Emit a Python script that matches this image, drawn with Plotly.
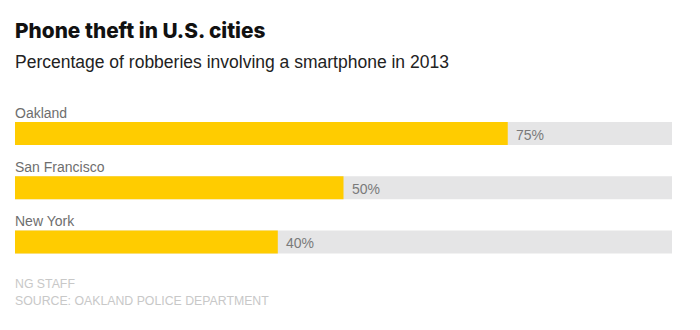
import plotly.graph_objects as go

# Share of robberies that involved a smartphone, 2013
cities = ["Oakland", "San Francisco", "New York"]
share = [75, 50, 40]
full_scale = [100, 100, 100]

YELLOW = "#ffcc00"
TRACK = "#e5e5e6"
FONT = "Liberation Sans, Arial, Helvetica, sans-serif"
HEAD_FONT = "Inter, Liberation Sans, Arial, sans-serif"

fig = go.Figure()

# Grey track showing the full 0-100% range
fig.add_trace(go.Bar(
    y=cities, x=full_scale, orientation="h",
    marker=dict(color=TRACK, line=dict(width=0)),
    width=0.42, hoverinfo="skip", showlegend=False,
))
# Yellow bar for the actual share
fig.add_trace(go.Bar(
    y=cities, x=share, orientation="h",
    marker=dict(color=YELLOW, line=dict(width=0)),
    width=0.42, showlegend=False,
    hovertemplate="%{y}: %{x}%<extra></extra>",
))

annotations = []
for city, val in zip(cities, share):
    # City name above each bar
    annotations.append(dict(
        x=0, y=city, xref="x", yref="y", text=city, showarrow=False,
        xanchor="left", yanchor="middle", xshift=-2, yshift=21,
        font=dict(family=FONT, size=14, color="#6e6e6e"),
    ))
    # Percentage just past the end of the yellow bar
    annotations.append(dict(
        x=val, y=city, xref="x", yref="y", text=f"{val}%", showarrow=False,
        xanchor="left", yanchor="middle", xshift=6, yshift=-1,
        font=dict(family=FONT, size=14, color="#7a7a7a"),
    ))

# Titles and credits (positions in pixels, converted below)
annotations += [
    dict(x=13, y=30.5, xref="paper", yref="paper", text="Phone theft in U.S. cities",
         showarrow=False, xanchor="left", yanchor="middle",
         font=dict(family=HEAD_FONT, size=20.8, color="#111111", weight=800)),
    dict(x=13, y=62, xref="paper", yref="paper",
         text="Percentage of robberies involving a smartphone in 2013",
         showarrow=False, xanchor="left", yanchor="middle",
         font=dict(family=FONT, size=17.5, color="#222222")),
    dict(x=13, y=284, xref="paper", yref="paper", text="NG STAFF",
         showarrow=False, xanchor="left", yanchor="middle",
         font=dict(family=FONT, size=12.3, color="#c8c8c8")),
    dict(x=13, y=301, xref="paper", yref="paper", text="SOURCE: OAKLAND POLICE DEPARTMENT",
         showarrow=False, xanchor="left", yanchor="middle",
         font=dict(family=FONT, size=12.3, color="#c8c8c8")),
]

W, H = 700, 330
for a in annotations:
    if a["xref"] == "paper":
        a["x"] = a["x"] / W
        a["y"] = 1 - a["y"] / H

# Bar rows: first bar centred near y=133.5px, rows 54.25px apart
step = 54.25
top_px = 133.5
y_lo = -top_px / step
y_hi = (H - top_px) / step

fig.update_layout(
    width=W, height=H,
    margin=dict(l=0, r=0, t=0, b=0),
    paper_bgcolor="white", plot_bgcolor="white",
    barmode="overlay",
    xaxis=dict(range=[0, 100], domain=[15 / W, 672 / W], visible=False, fixedrange=True),
    yaxis=dict(type="category", categoryorder="array", categoryarray=cities,
               range=[y_hi, y_lo], domain=[0, 1], visible=False, fixedrange=True),
    annotations=annotations,
    showlegend=False,
)

fig.write_html("out.html")
